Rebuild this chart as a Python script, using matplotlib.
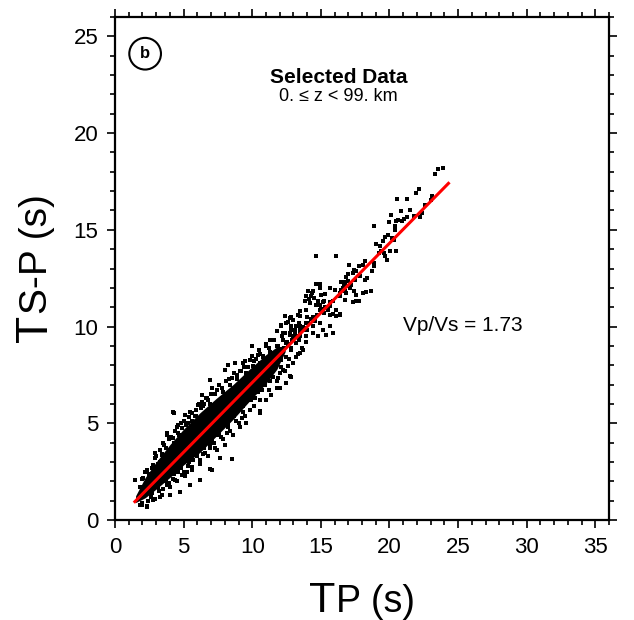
import matplotlib
matplotlib.use("Agg")
import matplotlib.pyplot as plt
from matplotlib.ticker import MultipleLocator

plt.rcParams['font.family'] = ['Liberation Sans', 'DejaVu Sans']

# ---- data ----
# dense core of the T_S-P vs T_P cloud (envelope of the solid black region)
core_x   = [1.5, 2.2, 3.0, 4.0, 5.0, 6.2, 7.4, 8.6, 9.8, 11.0, 11.8, 12.4]
core_top = [1.25, 2.2, 3.0, 3.9, 4.7, 5.55, 6.3, 7.0, 7.8, 8.55, 8.95, 9.0]
core_bot = [0.9, 1.15, 1.6, 2.2, 2.85, 3.5, 4.35, 5.2, 6.15, 7.05, 7.8, 8.7]

# individual scattered picks (Tp, Ts-Tp) outside the solid core
pts_x = [
    23.92, 23.53, 23.31, 22.12, 21.91, 21.28, 20.55, 23.12, 23.00, 22.56, 22.39, 22.25,
    21.52, 20.81, 21.25, 21.08, 21.81, 20.14, 19.97, 20.65, 20.45, 20.94, 20.38, 20.43,
    20.18, 20.31, 19.92, 19.65, 18.90, 19.04, 19.29, 19.36, 19.58, 19.70, 19.82, 20.01,
    20.45, 19.53, 19.24, 14.68, 16.13, 18.24, 18.07, 17.76, 17.59, 17.39, 17.35, 17.05,
    16.98, 16.86, 16.98, 16.74, 16.50, 16.69, 17.22, 17.52, 17.83, 18.20, 18.39, 18.73,
    18.90, 18.87, 17.59, 18.32, 17.35, 16.86, 16.59, 16.38, 16.06, 15.65, 15.31, 14.68,
    14.92, 14.39, 14.07, 13.95, 13.83, 14.14, 14.48, 14.80, 14.97, 15.21, 15.65, 15.89,
    16.08, 15.53, 13.46, 13.34, 12.37, 12.86,
    12.49, 13.22, 14.43, 14.92, 15.16, 15.65, 15.89, 15.41, 14.80, 14.43, 13.95, 13.46,
    12.74, 12.25, 12.13, 12.98, 12.74, 13.46, 13.95, 14.19, 14.68, 14.31, 14.43, 14.92,
    15.65, 16.38, 16.13, 15.89, 15.65, 15.16, 14.97, 15.04, 16.74, 17.78, 18.07, 18.68,
    16.38, 16.50, 16.74, 17.39, 17.10, 16.98,
    9.95, 8.73, 9.34, 8.25, 8.01, 6.91, 8.49, 9.10, 9.58, 9.83, 10.43, 11.04, 11.28,
    11.77, 12.13, 12.62, 12.86, 13.46, 12.37, 12.98, 12.01, 12.49, 7.40, 7.64, 6.67,
    6.43, 6.31, 7.88, 7.16, 12.74, 13.22, 13.46, 13.71, 12.49, 11.77, 11.89, 10.55,
    9.58, 9.10, 8.61, 7.52, 9.22, 9.83, 11.04, 11.40, 12.01,
    11.52, 11.77, 12.25, 12.74, 13.10, 13.46, 13.71, 13.95, 13.22, 12.86, 12.49, 12.13,
    11.65, 11.28, 10.92, 11.16, 10.80, 10.55, 10.31, 10.07, 12.62, 12.25,
    1.46, 2.06, 2.55, 2.91, 3.03, 3.28, 3.52, 3.64, 3.76, 4.25, 4.25, 4.61, 4.85, 5.34,
    5.58, 6.07, 6.31, 5.82, 5.09, 4.00, 3.40, 2.79,
    1.82, 2.30, 2.79, 3.28, 3.76, 4.37, 4.85, 5.22, 5.58, 6.19, 6.55, 6.91, 7.04, 7.64,
    8.01, 8.13, 7.40, 6.19, 5.46, 4.73, 4.00,
    10.55, 12.86, 8.49, 6.91, 4.32, 1.46, 1.94, 2.30, 17.59, 16.38, 9.58,
    2.3, 2.9, 3.3, 3.9, 4.4, 4.8, 5.4, 5.9, 6.5, 7.0, 7.8, 8.3, 8.9, 9.4, 10.1, 10.6,
    11.2, 3.6, 4.6, 6.8,
    2.6, 3.2, 3.5, 4.2, 4.6, 5.3, 5.7, 6.4, 6.9, 7.7, 8.2, 8.8, 9.3, 10.2, 10.7, 11.3,
    12.0, 3.9, 5.0, 7.2,
    # upper fringe of the core
    1.8, 2.0, 2.2, 2.5, 2.7, 3.0, 3.1, 3.4, 3.7, 3.8, 4.1, 4.3, 4.5, 4.7, 5.0, 5.2,
    5.5, 5.6, 5.9, 6.1, 6.3, 6.6, 6.9, 7.1, 7.3, 7.6, 7.9, 8.1, 8.4, 8.7, 8.9, 9.2,
    9.5, 9.7, 10.0, 10.3, 10.5, 10.8, 11.0, 11.3, 11.6, 11.9, 12.2, 12.5, 12.8, 13.1,
    13.4, 13.7, 14.0, 14.3,
    # lower fringe of the core
    2.0, 2.4, 2.7, 2.9, 3.1, 3.4, 3.7, 4.0, 4.3, 4.5, 4.8, 5.1, 5.4, 5.6, 6.0, 6.2,
    6.5, 6.8, 7.1, 7.3, 7.6, 7.9, 8.2, 8.4, 8.7, 9.0, 9.3, 9.5, 9.9, 10.1, 10.4, 10.6,
    10.9, 11.2, 11.5, 11.8, 12.1, 12.4, 12.7, 13.0, 13.3, 13.6, 13.9,
    # dotted continuation of the core
    11.7, 12.0, 12.3, 12.6, 12.9, 13.2, 13.5, 13.8, 14.1, 14.4, 14.7, 15.0, 15.3,
    12.1, 12.8, 13.4, 14.0, 14.6, 15.2,
]
pts_y = [
    18.20, 18.12, 17.91, 17.12, 16.91, 16.60, 16.60, 16.77, 16.56, 16.29, 15.89, 15.67,
    16.01, 15.98, 15.65, 15.56, 15.70, 15.79, 15.39, 15.53, 15.44, 15.48, 15.22, 15.01,
    14.56, 14.49, 14.73, 14.63, 15.18, 14.27, 14.15, 13.92, 13.80, 13.63, 13.46, 13.89,
    13.89, 14.41, 13.80, 13.63, 13.63, 13.37, 13.20, 13.11, 12.85, 12.94, 12.77, 13.18,
    12.73, 12.56, 12.34, 12.28, 12.28, 12.16, 12.16, 12.42, 12.60, 12.42, 12.51, 12.85,
    13.29, 13.11, 11.65, 11.80, 11.28, 11.73, 11.99, 11.73, 11.90, 11.99, 11.70, 12.20,
    11.99, 11.73, 11.82, 11.56, 11.30, 11.42, 11.47, 11.30, 11.13, 11.30, 11.25, 10.65,
    10.52, 10.84, 10.78, 10.61, 10.52, 10.49,
    10.18, 10.01, 10.01, 10.18, 9.83, 10.01, 9.66, 9.58, 9.49, 9.66, 9.49, 9.66,
    9.66, 9.66, 10.01, 10.35, 10.44, 10.52, 10.87, 11.21, 11.13, 11.56, 11.82, 10.87,
    10.61, 10.61, 10.87, 11.30, 11.08, 11.25, 12.22, 11.65, 11.39, 11.30, 11.73, 11.82,
    11.59, 11.87, 11.82, 11.82, 11.99, 12.08,
    9.01, 8.11, 8.11, 8.02, 7.76, 7.25, 7.33, 7.68, 7.59, 8.28, 8.54, 8.97, 9.32,
    9.75, 10.09, 10.21, 10.01, 10.01, 9.66, 9.49, 8.80, 9.14, 6.73, 6.21, 6.30,
    5.87, 6.47, 5.95, 5.35, 7.42, 8.45, 8.63, 8.80, 7.07, 6.82, 7.33, 5.52,
    5.00, 4.83, 4.40, 4.40, 5.26, 5.69, 6.21, 6.47, 6.82,
    8.63, 8.97, 9.32, 9.58, 9.83, 9.49, 9.83, 10.18, 9.14, 8.88, 8.45, 8.28,
    8.11, 7.94, 7.76, 8.28, 8.45, 8.11, 7.76, 7.94, 7.94, 7.76,
    2.07, 2.16, 2.33, 3.45, 2.59, 3.02, 3.97, 3.28, 4.49, 4.23, 5.56, 4.49, 4.74, 5.00,
    5.52, 5.95, 6.12, 5.35, 5.43, 3.62, 3.36, 2.85,
    0.78, 0.69, 1.04, 1.21, 1.81, 2.07, 2.33, 2.50, 2.76, 3.11, 3.45, 3.71, 2.59, 3.19,
    3.88, 4.49, 3.62, 2.07, 1.81, 1.47, 1.29,
    5.61, 7.39, 3.14, 2.62, 5.55, 2.07, 0.78, 0.73, 11.30, 10.66, 5.00,
    2.6, 3.2, 3.6, 4.2, 4.6, 5.0, 5.3, 5.7, 6.0, 6.5, 6.8, 7.3, 7.5, 7.9, 8.2, 8.6,
    8.9, 3.9, 4.9, 6.2,
    1.2, 1.5, 1.6, 2.1, 2.5, 2.8, 3.1, 3.4, 3.9, 4.3, 4.8, 5.1, 5.6, 6.3, 6.7, 7.2,
    7.6, 1.9, 2.5, 4.0,
    1.7, 2.1, 2.5, 2.4, 2.7, 3.3, 2.9, 3.4, 3.7, 4.4, 4.3, 4.0, 4.8, 4.4, 5.1, 4.9,
    5.6, 5.1, 5.4, 6.0, 5.8, 6.3, 6.0, 6.8, 6.5, 7.0, 6.6, 7.2, 7.0, 7.6, 7.3, 7.7,
    8.2, 7.9, 8.5, 8.3, 8.8, 8.5, 9.1, 8.7, 9.3, 9.0, 9.5, 9.2, 9.8, 9.6,
    10.2, 10.0, 10.5, 10.4,
    0.9, 1.0, 1.4, 1.1, 1.7, 1.3, 2.0, 1.7, 2.4, 2.0, 2.7, 2.3, 3.0, 2.6, 3.3, 2.9,
    3.7, 3.3, 4.1, 3.7, 4.5, 4.2, 5.0, 4.6, 5.4, 5.0, 5.9, 5.4, 6.2, 5.9, 6.6, 6.2,
    7.0, 6.7, 7.4, 7.2, 7.9, 7.7, 8.3, 8.1, 8.6, 8.9, 9.2,
    8.4, 8.7, 8.9, 9.1, 9.3, 9.5, 9.8, 9.9, 10.2, 10.5, 10.6, 10.9, 11.0,
    8.3, 8.8, 9.3, 9.8, 10.3, 10.7,
]

# fitted line (Vp/Vs = 1.73)
fit_x = [1.45, 24.3]
fit_y = [0.95, 17.4]

x_ticks = [0, 5, 10, 15, 20, 25, 30, 35]
y_ticks = [0, 5, 10, 15, 20, 25]

# ---- figure ----
fig = plt.figure(figsize=(6.34, 6.20), dpi=100)
ax = fig.add_axes([115/634, 1 - 520/620, 494/634, 503/620])

ax.fill_between(core_x, core_bot, core_top, color='black', lw=0, zorder=2)
ax.plot(pts_x, pts_y, ls='none', marker='s', ms=2.3, mew=0, color='black', zorder=3)
ax.plot(fit_x, fit_y, color='red', lw=2.2, zorder=4)

ax.set_xlim(0, 36)
ax.set_ylim(0, 26)
ax.set_xticks(x_ticks)
ax.set_yticks(y_ticks)
ax.xaxis.set_minor_locator(MultipleLocator(1))
ax.yaxis.set_minor_locator(MultipleLocator(1))
ax.tick_params(which='both', direction='out', top=True, right=True,
               labeltop=False, labelright=False, width=1.2, labelsize=16, pad=6)
ax.tick_params(which='major', length=6)
ax.tick_params(which='minor', length=3.5)
for s in ax.spines.values():
    s.set_linewidth(1.6)

# annotations
ax.text(0.061, 0.927, 'b', transform=ax.transAxes, ha='center', va='center',
        fontsize=12, fontweight='bold',
        bbox=dict(boxstyle='circle,pad=0.5', fc='white', ec='black', lw=1.5))
ax.text(0.453, 0.880, 'Selected Data', transform=ax.transAxes, ha='center',
        va='center', fontsize=15, fontweight='bold')
ax.text(0.452, 0.841, '0. \u2264 z < 99. km', transform=ax.transAxes, ha='center',
        va='center', fontsize=13)
ax.text(0.704, 0.386, 'Vp/Vs = 1.73', transform=ax.transAxes, ha='center',
        va='center', fontsize=15)

# axis labels with a large "T" and smaller subscript-like remainder
renderer = fig.canvas.get_renderer()
W, H = 634, 620

def width_px(txt, size):
    t = fig.text(0, 0, txt, fontsize=size)
    w = t.get_window_extent(renderer).width
    t.remove()
    return w

# x label
tw = width_px('T', 31)
rw = width_px('P (s)', 27)
cx = 362
x0 = cx - (tw + rw) / 2
base_y = 612
fig.text(x0 / W, 1 - base_y / H, 'T', fontsize=31, ha='left', va='baseline')
fig.text((x0 + tw) / W, 1 - base_y / H, 'P (s)', fontsize=27, ha='left', va='baseline')

# y label (rotated)
tw = width_px('T', 32)
rw = width_px('S-P (s)', 28)
cy = 268
y0 = cy + (tw + rw) / 2
base_x = 47
fig.text(base_x / W, 1 - y0 / H, 'T', fontsize=32, rotation=90,
         rotation_mode='anchor', ha='left', va='baseline')
fig.text(base_x / W, 1 - (y0 - tw) / H, 'S-P (s)', fontsize=28, rotation=90,
         rotation_mode='anchor', ha='left', va='baseline')

fig.savefig('out.png', dpi=100)
